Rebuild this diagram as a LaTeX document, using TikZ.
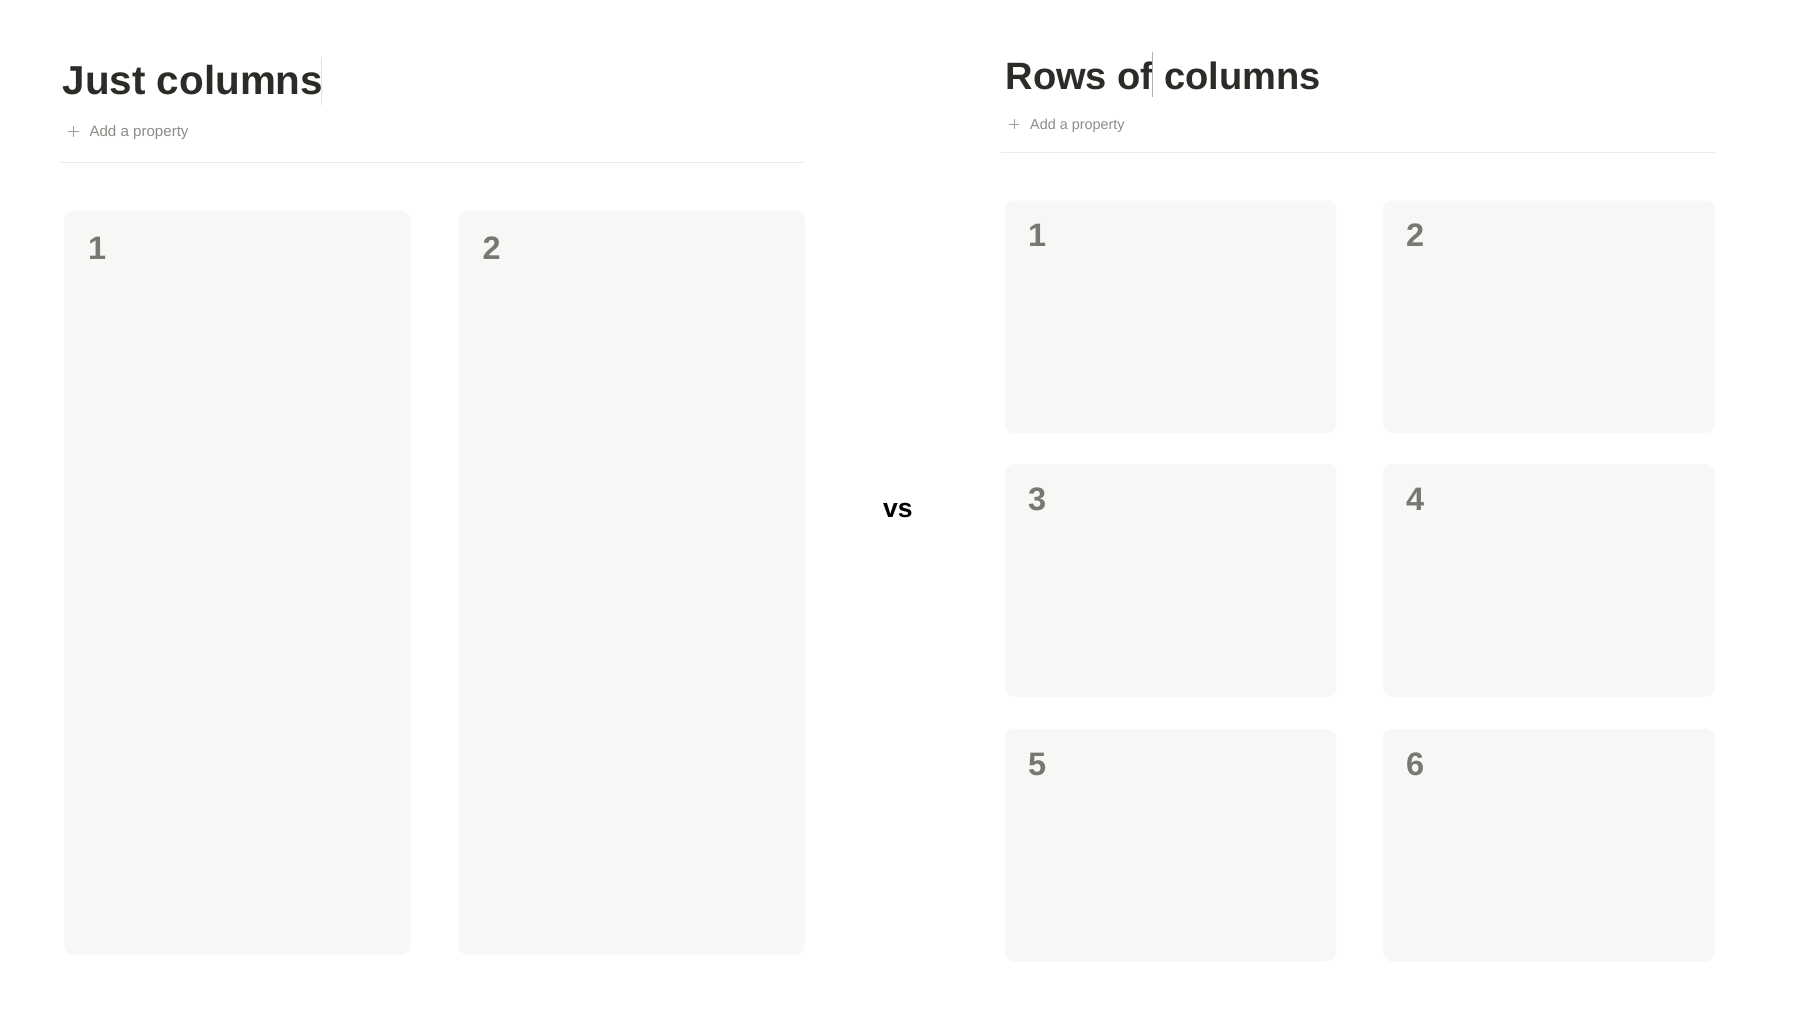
\documentclass[tikz,border=0pt]{standalone}
\usepackage{fontspec}
\setmainfont{Liberation Sans}
\definecolor{titlec}{HTML}{2C2B28}
\definecolor{propc}{HTML}{8E8C88}
\definecolor{boxc}{HTML}{F8F7F5}
\definecolor{numc}{HTML}{787774}
\definecolor{rulec}{HTML}{EBEBEA}
\begin{document}
\begin{tikzpicture}[x=1pt,y=-1pt,
  card/.style={fill=boxc, draw=none, rounded corners=9pt},
  num/.style={anchor=base west, inner sep=0pt, text=numc, font=\fontsize{32.5}{34}\selectfont\bfseries},
  prop/.style={anchor=base west, inner sep=0pt, text=propc},
  ttl/.style={anchor=base west, inner sep=0pt, text=titlec},
  plusmark/.style={draw=propc!85, line width=0.9pt},
  rulel/.style={draw=rulec, line width=1.6pt}]
\useasboundingbox[fill=white] (0,0) rectangle (1797,1024);

% ---------- left panel ----------
\node[ttl, font=\fontsize{40.4}{42}\selectfont\bfseries] (t1) at (62.5,95) {Just columns};
\draw[draw=gray!25, line width=0.8pt] (321.7,57) -- (321.7,105);
\draw[plusmark] (68.3,131.7) -- (79.3,131.7) (73.8,126.2) -- (73.8,137.2);
\node[prop, font=\fontsize{15.1}{17}\selectfont] (p1) at (89.3,137) {Add a property};
\draw[rulel] (59.6,162.7) -- (804.5,162.7);

\fill[card] (64.2,210.9) rectangle (410.3,954.7);
\fill[card] (458.4,210.9) rectangle (804.5,954.7);
\node[num] (l1) at (88,260) {1};
\node[num] (l2) at (482.5,260) {2};

% ---------- vs ----------
\node[inner sep=0pt, font=\fontsize{26.5}{28}\selectfont\bfseries] (vs) at (897.8,510.5) {vs};

% ---------- right panel ----------
\node[ttl, font=\fontsize{38.1}{40}\selectfont\bfseries] (t2) at (1005.3,90) {Rows of columns};
\draw[draw=gray!60, line width=0.8pt] (1152.3,51.7) -- (1152.3,97.3);
\draw[plusmark] (1009,124) -- (1019,124) (1014,119) -- (1014,129);
\node[prop, font=\fontsize{14.4}{16}\selectfont] (p2) at (1030,129.3) {Add a property};
\draw[rulel] (1000.5,152.4) -- (1714.5,152.4);

\foreach \ya/\yb in {200.6/433.2, 464.1/696.8, 728.9/961.5}{
  \fill[card] (1005.1,\ya) rectangle (1336.3,\yb);
  \fill[card] (1383.3,\ya) rectangle (1714.5,\yb);
}
\node[num] (r1) at (1028,246.7) {1};
\node[num] (r2) at (1406,246.7) {2};
\node[num] (r3) at (1028,510.2) {3};
\node[num] (r4) at (1406,510.2) {4};
\node[num] (r5) at (1028,775) {5};
\node[num] (r6) at (1406,775) {6};
\end{tikzpicture}
\end{document}
